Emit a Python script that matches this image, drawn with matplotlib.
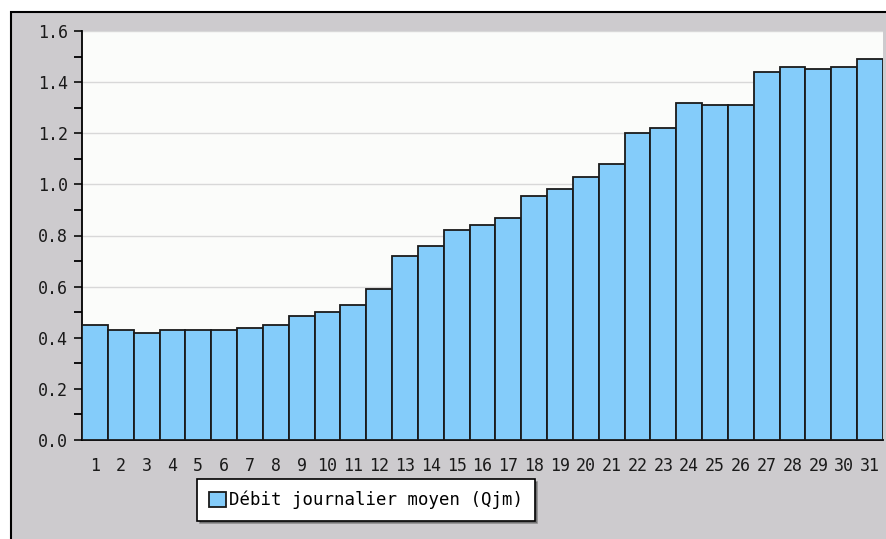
import numpy as np
import matplotlib.pyplot as plt
from matplotlib.patches import Rectangle
from matplotlib.ticker import MultipleLocator

# Daily mean discharge per day of month
days = list(range(1, 32))
debit = [0.45, 0.43, 0.42, 0.43, 0.43, 0.43, 0.44, 0.45, 0.485, 0.50,
         0.53, 0.59, 0.72, 0.76, 0.82, 0.84, 0.87, 0.955, 0.98, 1.03,
         1.08, 1.20, 1.22, 1.32, 1.31, 1.31, 1.44, 1.46, 1.45, 1.46, 1.49]
label = 'Débit journalier moyen (Qjm)'

W, H = 887, 539
fig = plt.figure(figsize=(W / 100, H / 100), dpi=100)
fig.patch.set_facecolor('white')

# gray frame with black border on top/left
fig.patches.append(Rectangle((11 / W, -0.01), 1.0, (H - 12) / H + 0.01,
                             transform=fig.transFigure, facecolor='#cdcbce',
                             edgecolor='black', linewidth=1.5, zorder=0))

ax = fig.add_axes([82 / W, (H - 440) / H, (883 - 82) / W, (440 - 31) / H])
ax.set_zorder(1)
ax.set_facecolor('#fbfcfa')

ax.bar(days, debit, width=1.0, color='#84ccfa', edgecolor='#1a1a1a',
       linewidth=1.3, label=label, zorder=3)

ax.set_xlim(0.5, 31.5)
ax.set_ylim(0, 1.6)
ax.yaxis.set_major_locator(MultipleLocator(0.2))
ax.yaxis.set_minor_locator(MultipleLocator(0.1))
ax.set_xticks(days)
ax.set_xticklabels([str(d) for d in days])
ax.yaxis.set_major_formatter(plt.FuncFormatter(lambda v, p: f'{v:.1f}'))

ax.grid(axis='y', which='major', color='#d8d8d8', linewidth=1, zorder=0)
for s in ['top', 'right']:
    ax.spines[s].set_visible(False)
ax.spines['left'].set_linewidth(1.3)
ax.spines['bottom'].set_linewidth(1.3)

ax.tick_params(axis='y', which='major', length=6, width=1.3, pad=4,
               labelsize=12, labelfontfamily='DejaVu Sans Mono', colors='#1a1a1a')
ax.tick_params(axis='y', which='minor', length=6, width=1.3)
ax.tick_params(axis='x', length=0, pad=12, labelsize=12,
               labelfontfamily='DejaVu Sans Mono', colors='#1a1a1a')

leg = fig.legend(loc='center', bbox_to_anchor=(366 / W, (H - 500) / H),
                 frameon=True, shadow=True, fancybox=False, framealpha=1,
                 edgecolor='black', handlelength=1.0, handleheight=1.0,
                 handletextpad=0.2, borderpad=0.65,
                 prop={'family': 'DejaVu Sans Mono', 'size': 12.5})
leg.get_frame().set_linewidth(1.2)
leg.set_zorder(5)

fig.savefig('out.png', dpi=100)
